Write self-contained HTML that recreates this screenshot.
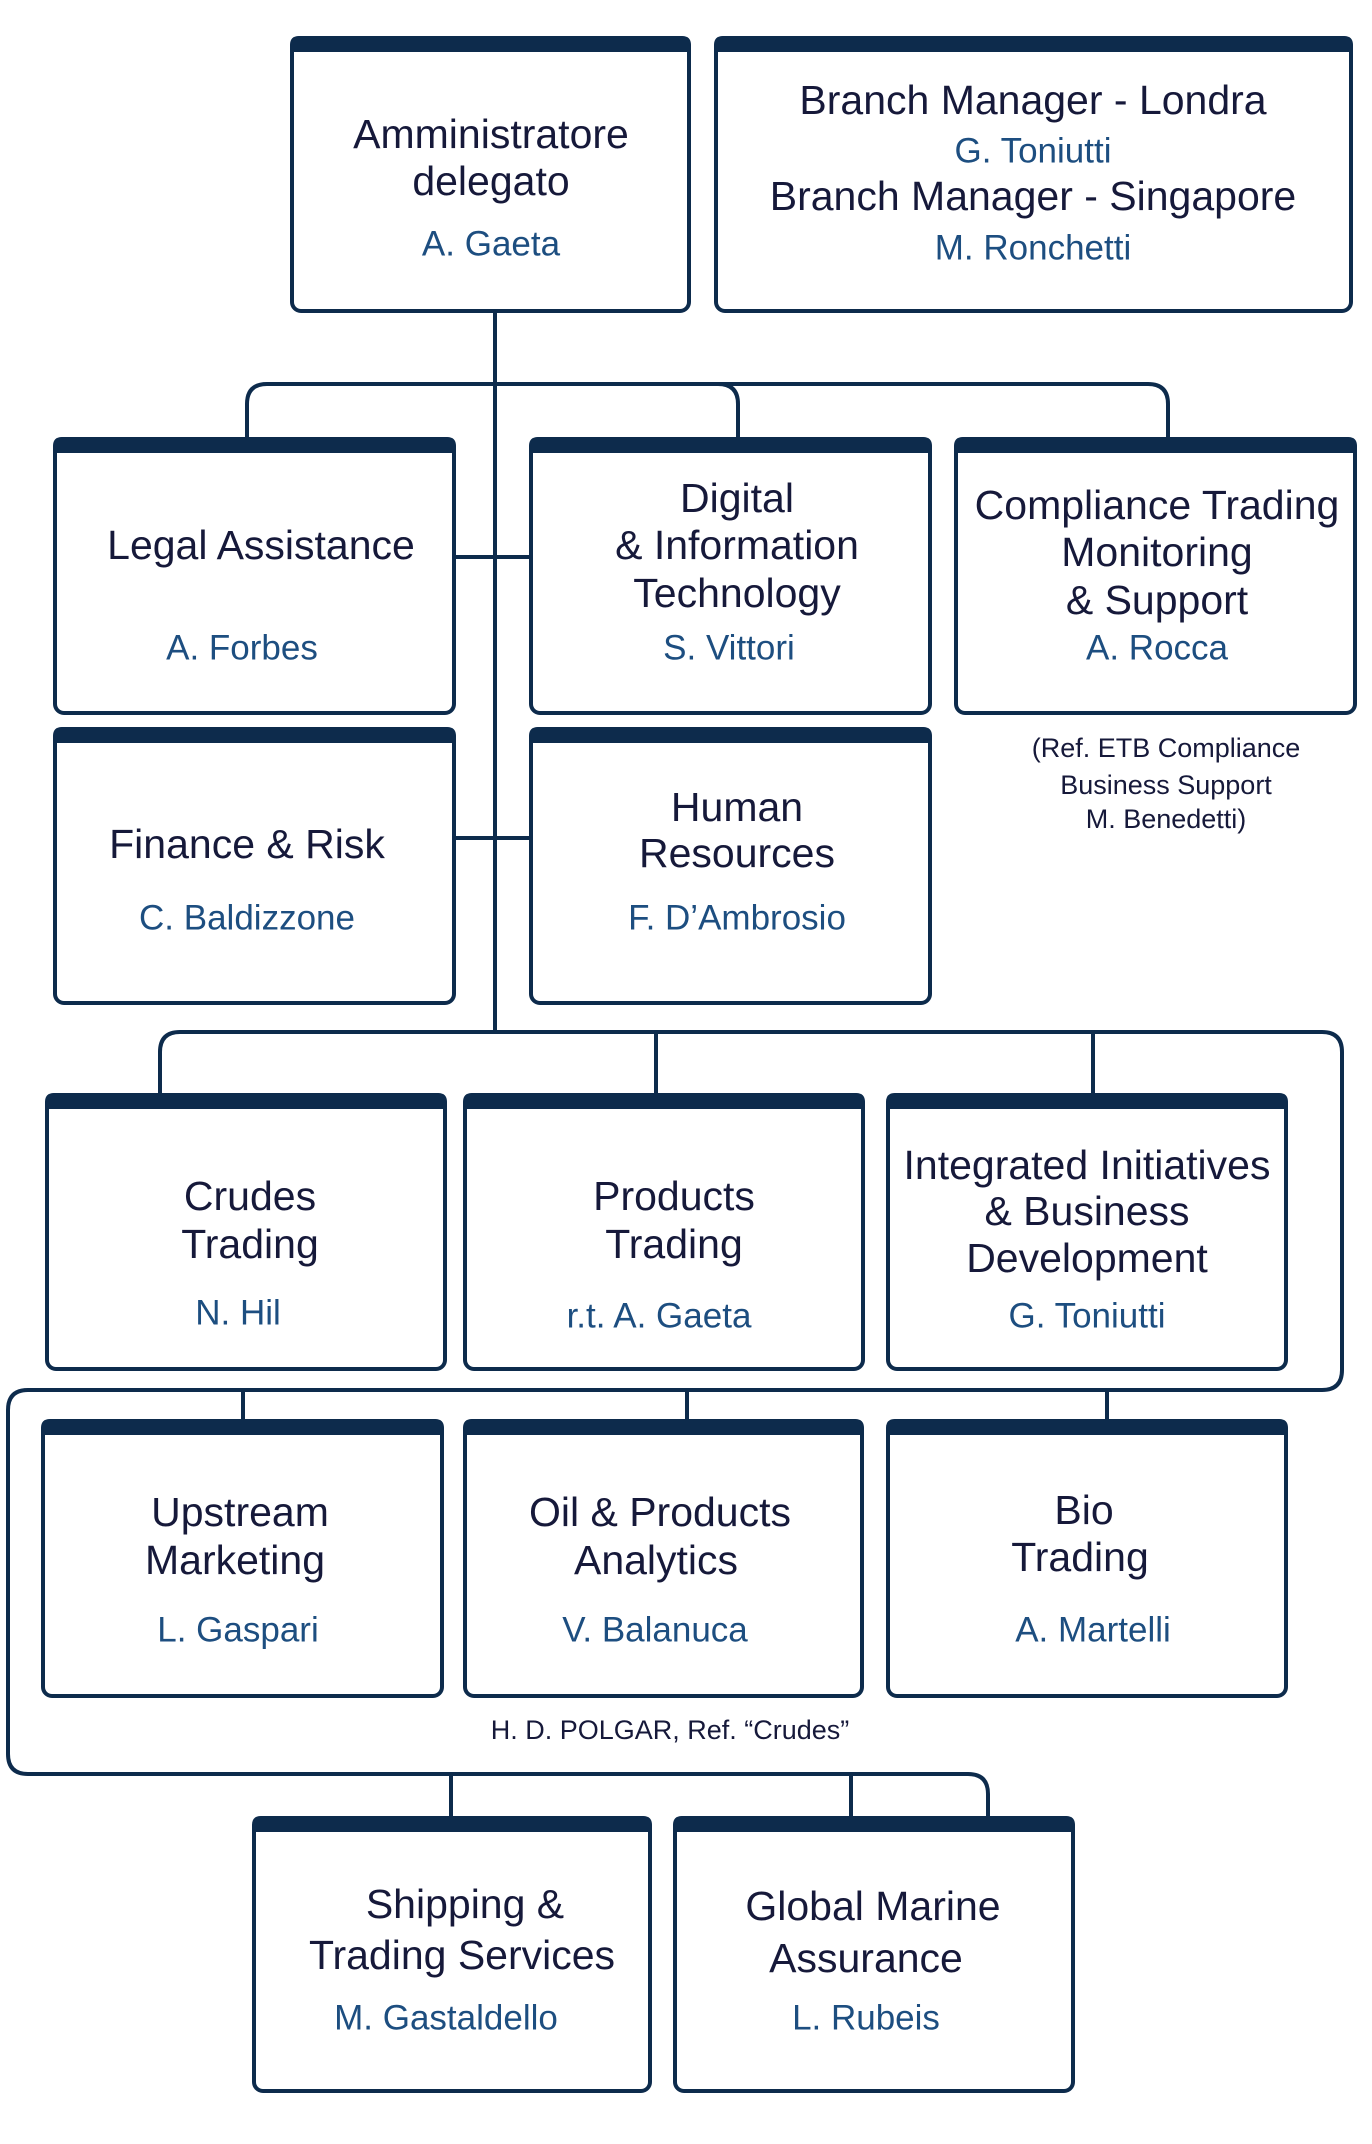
<!DOCTYPE html>
<html><head><meta charset="utf-8"><style>
html,body{margin:0;padding:0;background:#fff;}
svg{display:block}
.t{font-family:"Liberation Sans",sans-serif;font-size:41px;fill:#16193a;text-anchor:middle;dominant-baseline:central}
.n{font-family:"Liberation Sans",sans-serif;font-size:35px;fill:#1d4e80;text-anchor:middle;dominant-baseline:central}
.s{font-family:"Liberation Sans",sans-serif;font-size:27px;fill:#16193a;text-anchor:middle;dominant-baseline:central}
</style></head><body>
<svg width="1372" height="2144" viewBox="0 0 1372 2144" xmlns="http://www.w3.org/2000/svg">
<g fill="none" stroke="#0d2b4c" stroke-width="4">
<!-- trunk -->
<line x1="495" y1="311" x2="495" y2="1032"/>
<!-- top bus -->
<path d="M247 439 V404 Q247 384 267 384 H718 Q738 384 738 404 V439"/>
<path d="M495 384 H1148 Q1168 384 1168 404 V439"/>
<line x1="454" y1="557" x2="531" y2="557"/>
<line x1="454" y1="838" x2="531" y2="838"/>
<!-- bus 2 -->
<path d="M160 1095 V1052 Q160 1032 180 1032 H1322 Q1342 1032 1342 1052 V1370 Q1342 1390 1322 1390 H28 Q8 1390 8 1410 V1754 Q8 1774 28 1774 H968 Q988 1774 988 1794 V1818"/>
<line x1="656" y1="1032" x2="656" y2="1095"/>
<line x1="1093" y1="1032" x2="1093" y2="1095"/>
<line x1="243" y1="1390" x2="243" y2="1421"/>
<line x1="687" y1="1390" x2="687" y2="1421"/>
<line x1="1107" y1="1390" x2="1107" y2="1421"/>
<line x1="451" y1="1774" x2="451" y2="1818"/>
<line x1="851" y1="1774" x2="851" y2="1818"/>
</g>
<g fill="#fff" stroke="#0d2b4c" stroke-width="4">
<rect x="292" y="38" width="397" height="273" rx="9"/>
<rect x="716" y="38" width="635" height="273" rx="9"/>
<rect x="55" y="439" width="399" height="274" rx="9"/>
<rect x="531" y="439" width="399" height="274" rx="9"/>
<rect x="956" y="439" width="399" height="274" rx="9"/>
<rect x="55" y="729" width="399" height="274" rx="9"/>
<rect x="531" y="729" width="399" height="274" rx="9"/>
<rect x="47" y="1095" width="398" height="274" rx="9"/>
<rect x="465" y="1095" width="398" height="274" rx="9"/>
<rect x="888" y="1095" width="398" height="274" rx="9"/>
<rect x="43" y="1421" width="399" height="275" rx="9"/>
<rect x="465" y="1421" width="397" height="275" rx="9"/>
<rect x="888" y="1421" width="398" height="275" rx="9"/>
<rect x="254" y="1818" width="396" height="273" rx="9"/>
<rect x="675" y="1818" width="398" height="273" rx="9"/>
</g>
<g fill="#0d2b4c">
<path d="M290 52 V45 Q290 36 299 36 H682 Q691 36 691 45 V52 Z"/>
<path d="M714 52 V45 Q714 36 723 36 H1344 Q1353 36 1353 45 V52 Z"/>
<path d="M53 453 V446 Q53 437 62 437 H447 Q456 437 456 446 V453 Z"/>
<path d="M529 453 V446 Q529 437 538 437 H923 Q932 437 932 446 V453 Z"/>
<path d="M954 453 V446 Q954 437 963 437 H1348 Q1357 437 1357 446 V453 Z"/>
<path d="M53 743 V736 Q53 727 62 727 H447 Q456 727 456 736 V743 Z"/>
<path d="M529 743 V736 Q529 727 538 727 H923 Q932 727 932 736 V743 Z"/>
<path d="M45 1109 V1102 Q45 1093 54 1093 H438 Q447 1093 447 1102 V1109 Z"/>
<path d="M463 1109 V1102 Q463 1093 472 1093 H856 Q865 1093 865 1102 V1109 Z"/>
<path d="M886 1109 V1102 Q886 1093 895 1093 H1279 Q1288 1093 1288 1102 V1109 Z"/>
<path d="M41 1435 V1428 Q41 1419 50 1419 H435 Q444 1419 444 1428 V1435 Z"/>
<path d="M463 1435 V1428 Q463 1419 472 1419 H855 Q864 1419 864 1428 V1435 Z"/>
<path d="M886 1435 V1428 Q886 1419 895 1419 H1279 Q1288 1419 1288 1428 V1435 Z"/>
<path d="M252 1832 V1825 Q252 1816 261 1816 H643 Q652 1816 652 1825 V1832 Z"/>
<path d="M673 1832 V1825 Q673 1816 682 1816 H1066 Q1075 1816 1075 1825 V1832 Z"/>
</g>
<text class="t" x="491" y="134">Amministratore</text>
<text class="t" x="491" y="181">delegato</text>
<text class="n" x="491" y="244">A. Gaeta</text>
<text class="t" x="1033" y="100">Branch Manager - Londra</text>
<text class="n" x="1033" y="151">G. Toniutti</text>
<text class="t" x="1033" y="196">Branch Manager - Singapore</text>
<text class="n" x="1033" y="248">M. Ronchetti</text>
<text class="t" x="261" y="545">Legal Assistance</text>
<text class="n" x="242" y="648">A. Forbes</text>
<text class="t" x="737" y="498">Digital</text>
<text class="t" x="737" y="545">&amp; Information</text>
<text class="t" x="737" y="593">Technology</text>
<text class="n" x="729" y="648">S. Vittori</text>
<text class="t" x="1157" y="505">Compliance Trading</text>
<text class="t" x="1157" y="552">Monitoring</text>
<text class="t" x="1157" y="600">&amp; Support</text>
<text class="n" x="1157" y="648">A. Rocca</text>
<text class="s" x="1166" y="748">(Ref. ETB Compliance</text>
<text class="s" x="1166" y="785">Business Support</text>
<text class="s" x="1166" y="819">M. Benedetti)</text>
<text class="t" x="247" y="844">Finance &amp; Risk</text>
<text class="n" x="247" y="918">C. Baldizzone</text>
<text class="t" x="737" y="807">Human</text>
<text class="t" x="737" y="853">Resources</text>
<text class="n" x="737" y="918">F. D’Ambrosio</text>
<text class="t" x="250" y="1196">Crudes</text>
<text class="t" x="250" y="1244">Trading</text>
<text class="n" x="238" y="1313">N. Hil</text>
<text class="t" x="674" y="1196">Products</text>
<text class="t" x="674" y="1244">Trading</text>
<text class="n" x="659" y="1316">r.t. A. Gaeta</text>
<text class="t" x="1087" y="1165">Integrated Initiatives</text>
<text class="t" x="1087" y="1211">&amp; Business</text>
<text class="t" x="1087" y="1258">Development</text>
<text class="n" x="1087" y="1316">G. Toniutti</text>
<text class="t" x="240" y="1512">Upstream</text>
<text class="t" x="235" y="1560">Marketing</text>
<text class="n" x="238" y="1630">L. Gaspari</text>
<text class="t" x="660" y="1512">Oil &amp; Products</text>
<text class="t" x="656" y="1560">Analytics</text>
<text class="n" x="655" y="1630">V. Balanuca</text>
<text class="t" x="1084" y="1510">Bio</text>
<text class="t" x="1080" y="1557">Trading</text>
<text class="n" x="1093" y="1630">A. Martelli</text>
<text class="s" x="670" y="1730">H. D. POLGAR, Ref. “Crudes”</text>
<text class="t" x="465" y="1904">Shipping &amp;</text>
<text class="t" x="462" y="1955">Trading Services</text>
<text class="n" x="446" y="2018">M. Gastaldello</text>
<text class="t" x="873" y="1906">Global Marine</text>
<text class="t" x="866" y="1958">Assurance</text>
<text class="n" x="866" y="2018">L. Rubeis</text>
</svg>
</body></html>
